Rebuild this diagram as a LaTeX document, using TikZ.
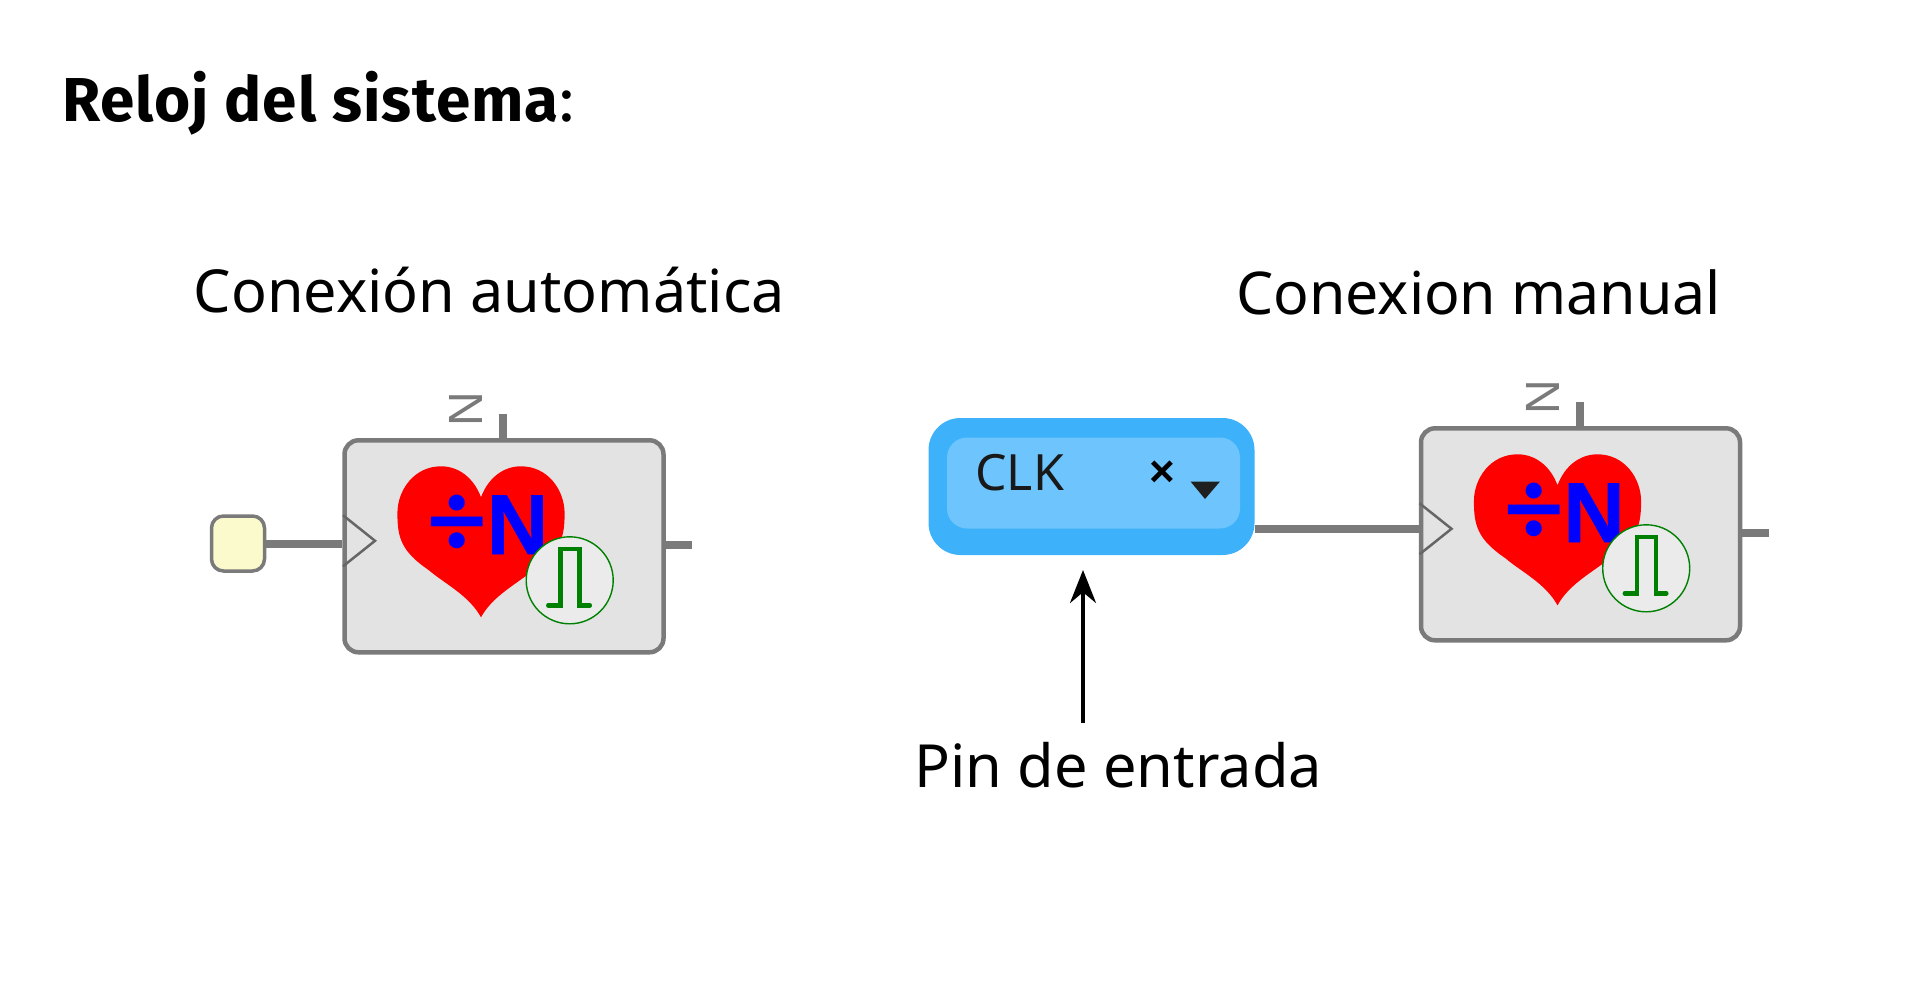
\documentclass[tikz,border=0pt]{standalone}
\usepackage{fontspec}
\setmainfont{Noto Sans}
\newfontfamily\titlefont{Fira Sans}[LetterSpace=1.5]
\newfontfamily\arialfont{Liberation Sans}
\newfontfamily\divfont{Lato}
\usetikzlibrary{arrows.meta}
\usetikzlibrary{calc}
\definecolor{wiregray}{HTML}{7A7A7A}
\definecolor{bodygray}{HTML}{E3E3E3}
\definecolor{oscgray}{HTML}{EBEBEB}
\definecolor{pinyellow}{HTML}{FBFACC}
\definecolor{pinblue}{HTML}{3DB2FB}
\definecolor{pinlight}{HTML}{6EC4FC}
\definecolor{pulsegreen}{HTML}{008000}
\newcommand{\fs}[1]{\fontsize{#1}{#1}\selectfont}
\tikzset{
wire/.style={draw=wiregray,line width=8pt},
divbody/.style={draw=wiregray,fill=bodygray,line width=4.5pt,rounded corners=14pt,minimum width=319pt,minimum height=212pt,inner sep=0pt},
heading/.style={inner sep=0pt,anchor=base west,text=black}
}
% block of the divider, #1 = name, #2 = centre
\newcommand{\divblock}[2]{
\node[divbody] (#1) at (#2) {};
\begin{scope}[shift={(#1.center)}]
\fill[red] (-23,-49) .. controls (-30,-68) and (-45,-80) .. (-63,-80) .. controls (-90,-80) and (-106.6,-56) .. (-106.6,-33)
 .. controls (-106.6,-9) and (-103,5) .. (-75,24) .. controls (-60,37) and (-35,49) .. (-23,71)
 .. controls (-11,49) and (14,37) .. (29,24) .. controls (57,5) and (60.6,-9) .. (60.6,-33)
 .. controls (60.6,-56) and (44,-80) .. (17,-80) .. controls (-1,-80) and (-16,-68) .. (-23,-49) -- cycle;
\node[text=blue,inner sep=0pt] (#1div) at (-46.5,-20) {\divfont\bfseries\fs{106}÷};
\node[text=blue,inner sep=0pt] (#1n) at (13.5,-21.5) {\arialfont\bfseries\addfontfeature{FakeBold=1}\fs{85}N};
\node[circle,draw=pulsegreen,fill=oscgray,line width=1.4pt,minimum size=87pt,inner sep=0pt] (#1osc) at (65.7,34) {};
\draw[pulsegreen,line width=4.5pt,line cap=round] (44.3,59) -- (56.4,59) -- (56.4,2.7) -- (75.4,2.7) -- (75.4,59) -- (85.8,59);
\draw[draw=black!60,line width=2.5pt] (-161,-31) -- (-129,-5.5) -- (-161,20);
\node[rotate=90,text=wiregray,inner sep=0pt] (#1lab) at (-38,-137) {\arialfont\fs{48}N};
\coordinate (#1top) at (-1,-132);
\coordinate (#1out) at (188,-1.5);
\end{scope}
\draw[wire] (#1.north -| #1top) -- (#1top);
\draw[wire] (#1.east |- #1out) -- (#1out);
}

\begin{document}
\begin{tikzpicture}[x=1pt,y=-1pt]
\useasboundingbox (0,0) rectangle (1913,992);
\fill[white] (0,0) rectangle (1913,992);

\node[heading] (titlelab) at (62,122) {\titlefont\fs{62}\textbf{Reloj del sistema}:};
\node[heading] (autolab) at (193.5,312) {\fs{59.3}Conexión automática};
\node[heading] (manuallab) at (1236,314) {\fs{59}Conexion manual};
\node[heading] (pinlab) at (914,787) {\fs{59.5}Pin de entrada};

\divblock{blka}{504,546.3}
\divblock{blkb}{1580.5,534.3}

\node[draw=wiregray,fill=pinyellow,line width=3.5pt,rounded corners=12pt,minimum width=53pt,minimum height=55pt,inner sep=0pt] (pinbox) at (238,543.5) {};
\draw[wire] (pinbox.east) -- (pinbox.east -| blka.west);

\node[fill=pinblue,rounded corners=32pt,minimum width=326pt,minimum height=137pt,inner sep=0pt] (clkpin) at (1091.5,486.5) {};
\node[fill=pinlight,rounded corners=20pt,minimum width=293pt,minimum height=91pt,inner sep=0pt] (clkin) at (1093.5,483) {};
\node[heading,text=black!90] (clklab) at (975,490) {\fs{50}CLK};
\node[text=black,inner sep=0pt] (clkx) at (1162.5,474) {\arialfont\bfseries\fs{44}×};
\fill[black!88] (1190.5,481.5) -- (1220,481.5) -- (1205,499) -- cycle;
\draw[wire] ($(clkpin.east)+(0,42)$) -- ($(clkpin.east -| blkb.west)+(0,42)$);

\coordinate (pintail) at (1083,723);
\coordinate (pintip) at (1083,570);
\draw[-{Stealth[length=33pt,width=26pt]},line width=3.5pt] (pintail) -- (pintip);
\end{tikzpicture}
\end{document}
